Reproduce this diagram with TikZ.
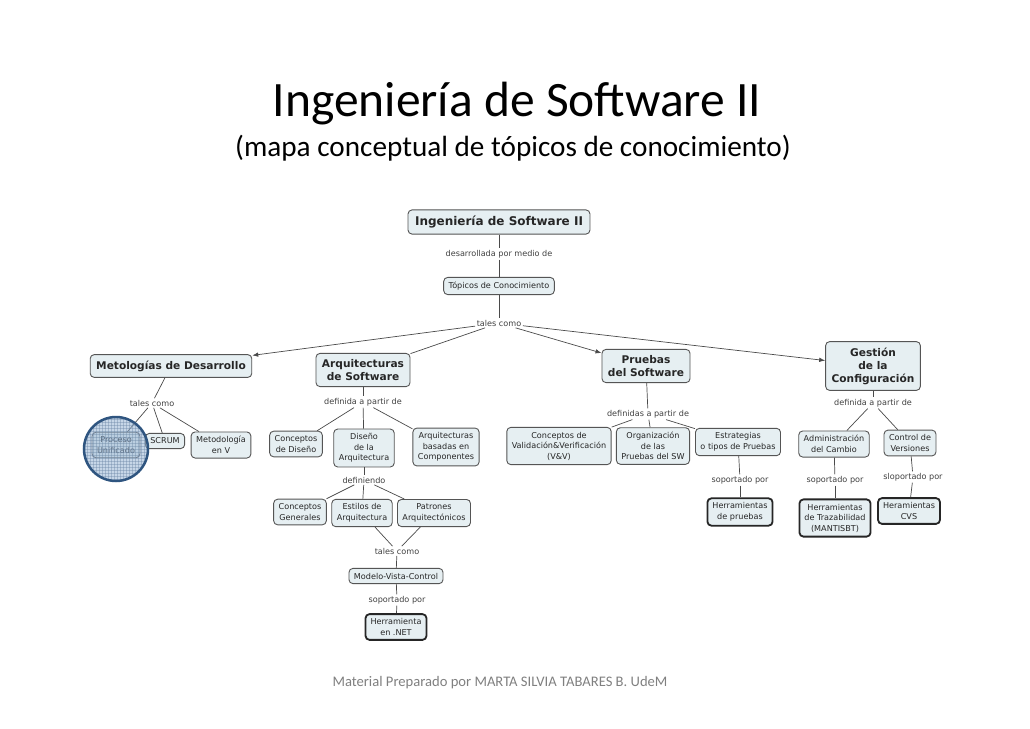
\documentclass[tikz,border=0pt]{standalone}
\usepackage{fontspec}
\newfontfamily\cmapfont{DejaVu Sans}
\newfontfamily\calfont{Carlito}
\usetikzlibrary{arrows.meta,patterns}
\definecolor{nodefill}{HTML}{E6EFF2}
\definecolor{nodeedge}{HTML}{555555}
\definecolor{linkc}{HTML}{4A4A4A}
\definecolor{circfill}{HTML}{8FAED0}
\definecolor{circedge}{HTML}{2F5580}
\definecolor{foot}{HTML}{808080}
\begin{document}
\begin{tikzpicture}[x=1pt,y=-1pt,
 concept/.style={draw=nodeedge, fill=nodefill, rounded corners=4pt, line width=0.9pt, align=center,
   font=\cmapfont\fontsize{8.1}{10.5}\selectfont, inner xsep=5pt, inner ysep=4.5pt, text=black!85},
 mainc/.style={concept, font=\cmapfont\bfseries\fontsize{10.6}{13}\selectfont, inner xsep=6pt, inner ysep=6pt},
 leafc/.style={concept, line width=1.8pt, draw=black!85},
 lbl/.style={font=\cmapfont\fontsize{8.1}{9}\selectfont, text=black!75, inner sep=1.5pt},
 link/.style={draw=linkc, line width=0.7pt},
 arr/.style={link, -{Latex[length=6pt,width=4.5pt]}},
 hilite/.style={circle, draw=circedge, line width=2.5pt, minimum size=64pt, inner sep=0pt}
]
\useasboundingbox (0,0) rectangle (1030,728);
\fill[white] (0,0) rectangle (1030,728);

% titles
\node[font=\calfont\fontsize{49.5}{56}\selectfont, anchor=base] (title) at (517,116) {Ingeniería de Software II};
\node[font=\calfont\fontsize{29.2}{34}\selectfont, anchor=base] (subtitle) at (513,156) {(mapa conceptual de tópicos de conocimiento)};
\node[font=\calfont\fontsize{14.6}{16}\selectfont, text=foot, anchor=base] (footer) at (500,686) {Material Preparado por MARTA SILVIA TABARES B. UdeM};

% top
\node[mainc, font=\cmapfont\bfseries\fontsize{12}{14}\selectfont, inner xsep=7pt] (ing) at (499,222) {Ingeniería de Software II};
\node[lbl] (l1) at (499,254) {desarrollada por medio de};
\node[concept] (top) at (499,286) {Tópicos de Conocimiento};
\node[lbl] (l2) at (499,323) {tales como};

% main branches
\node[mainc] (met) at (171,366) {Metologías de Desarrollo};
\node[mainc] (arq) at (363,370) {Arquitecturas\\de Software};
\node[mainc] (pru) at (646,366) {Pruebas\\del Software};
\node[mainc] (ges) at (873,366) {Gestión\\de la\\Configuración};

% Metologias subtree
\node[lbl] (l3) at (152,403) {tales como};
\node[concept] (pu) at (116,445) {Proceso\\Unificado};
\node[concept] (scrum) at (165,441) {SCRUM};
\node[concept] (mv) at (221,445) {Metodología\\en V};

% Arquitecturas subtree
\node[lbl] (l4) at (363,402) {definida a partir de};
\node[concept] (cd) at (296,444) {Conceptos\\de Diseño};
\node[concept] (da) at (364,448) {Diseño\\de la\\Arquitectura};
\node[concept] (abc) at (446,447) {Arquitecturas\\basadas en\\Componentes};
\node[lbl] (l5) at (364,480) {definiendo};
\node[concept] (cg) at (300,512) {Conceptos\\Generales};
\node[concept] (ea) at (362,513) {Estilos de\\Arquitectura};
\node[concept] (pa) at (434,513) {Patrones\\Arquitectónicos};
\node[lbl] (l6) at (397,551) {tales como};
\node[concept] (mvc) at (396,576) {Modelo-Vista-Control};
\node[lbl] (l7) at (397,600) {soportado por};
\node[leafc] (net) at (396,627) {Herramienta\\en .NET};

% Pruebas subtree
\node[lbl] (l8) at (648,414) {definidas a partir de};
\node[concept] (vv) at (559,446) {Conceptos de\\Validación\&Verificación\\(V\&V)};
\node[concept] (org) at (653,446) {Organización\\de las\\Pruebas del SW};
\node[concept] (est) at (738,442) {Estrategias\\o tipos de Pruebas};
\node[lbl] (l9) at (740,480) {soportado por};
\node[leafc] (hp) at (740,512) {Herramientas\\de pruebas};

% Gestion subtree
\node[lbl] (l10) at (873,403) {definida a partir de};
\node[concept] (adm) at (834,444) {Administración\\del Cambio};
\node[concept] (cv) at (910,443) {Control de\\Versiones};
\node[lbl] (l11) at (835,480) {soportado por};
\node[lbl] (l12) at (913,477) {sloportado por};
\node[leafc] (ht) at (835,518) {Herramientas\\de Trazabilidad\\(MANTISBT)};
\node[leafc] (hcvs) at (909,511) {Heramientas\\CVS};

% connectors
\draw[link] (ing) -- (l1);
\draw[link] (l1) -- (top);
\draw[link] (top) -- (l2);
\draw[arr] (l2) -- (met);
\draw[link] (l2) -- (arq);
\draw[arr] (l2) -- (pru);
\draw[arr] (l2) -- (ges);

\draw[link] (met) -- (l3);
\draw[link] (l3) -- (pu);
\draw[link] (l3) -- (scrum);
\draw[link] (l3) -- (mv);

\draw[link] (arq) -- (l4);
\draw[link] (l4) -- (cd);
\draw[link] (l4) -- (da);
\draw[link] (l4) -- (abc);
\draw[link] (da) -- (l5);
\draw[link] (l5) -- (cg);
\draw[link] (l5) -- (ea);
\draw[link] (l5) -- (pa);
\draw[link] (ea) -- (l6);
\draw[link] (pa) -- (l6);
\draw[link] (l6) -- (mvc);
\draw[link] (mvc) -- (l7);
\draw[link] (l7) -- (net);

\draw[link] (pru) -- (l8);
\draw[link] (l8) -- (vv);
\draw[link] (l8) -- (org);
\draw[link] (l8) -- (est);
\draw[link] (est) -- (l9);
\draw[link] (l9) -- (hp);

\draw[link] (ges) -- (l10);
\draw[link] (l10) -- (adm);
\draw[link] (l10) -- (cv);
\draw[link] (adm) -- (l11);
\draw[link] (l11) -- (ht);
\draw[link] (cv) -- (l12);
\draw[link] (l12) -- (hcvs);

% highlight circle
\fill[circfill, opacity=0.5] (116,449) circle (32pt);
\fill[pattern=grid, pattern color=circedge!70, opacity=0.4] (116,449) circle (32pt);
\node[hilite] (hl) at (116,449) {};
\end{tikzpicture}
\end{document}
